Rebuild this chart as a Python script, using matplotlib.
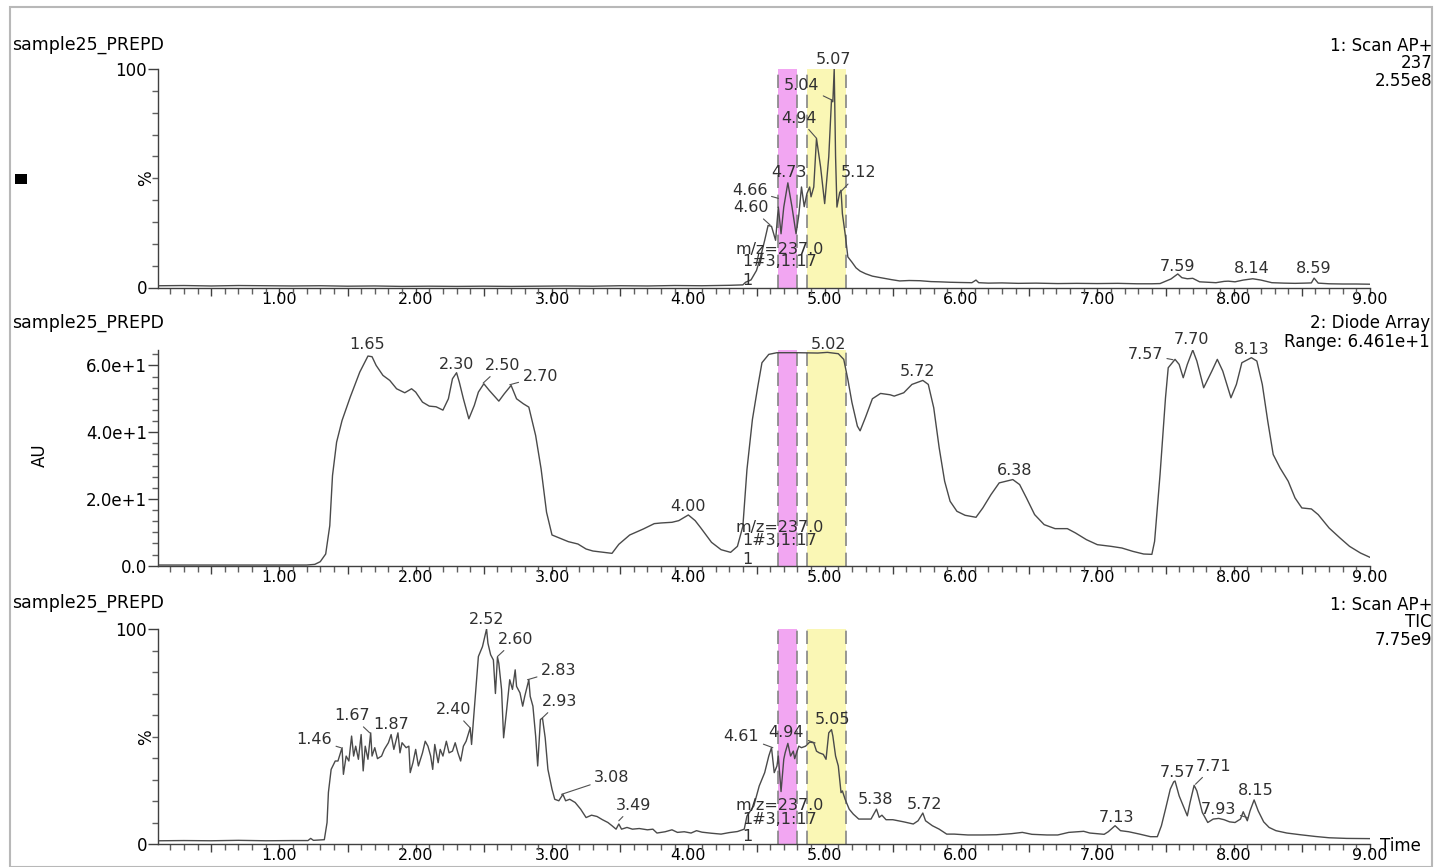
import matplotlib.pyplot as plt
from matplotlib.patches import Rectangle
from matplotlib.ticker import MultipleLocator, FixedLocator, FuncFormatter

# ---- trace 1: Scan AP+ 237 (% of 2.55e8) ----
ms_time = [0.12, 0.3, 0.5, 0.7, 0.9, 1.1, 1.3, 1.5, 1.7, 1.9, 2.1, 2.3, 2.5, 2.7, 2.9, 3.1,
           3.3, 3.5, 3.7, 3.9, 4.1, 4.3, 4.40, 4.42, 4.46, 4.50, 4.53, 4.56, 4.585, 4.61,
           4.64, 4.66, 4.68, 4.70, 4.73, 4.76, 4.79, 4.81, 4.83, 4.85, 4.87, 4.89, 4.90,
           4.92, 4.94, 4.97, 5.00, 5.03, 5.05, 5.06, 5.07, 5.08, 5.09, 5.11, 5.12, 5.13,
           5.15, 5.17, 5.20, 5.23, 5.26, 5.30, 5.35, 5.41, 5.49, 5.55, 5.62, 5.70, 5.78,
           5.84, 5.92, 5.99, 6.08, 6.11, 6.13, 6.2, 6.3, 6.42, 6.55, 6.71, 6.85, 7.0, 7.15,
           7.29, 7.40, 7.46, 7.54, 7.59, 7.62, 7.66, 7.70, 7.75, 7.81, 7.87, 7.93, 7.96,
           8.01, 8.07, 8.14, 8.20, 8.28, 8.37, 8.45, 8.52, 8.57, 8.59, 8.62, 8.70, 8.80,
           8.90, 9.0]
ms_pct = [0.8, 0.9, 0.7, 0.9, 0.8, 0.7, 0.8, 0.6, 0.7, 0.5, 0.6, 0.5, 0.6, 0.5, 0.6, 0.7,
          0.6, 0.8, 0.7, 0.9, 0.8, 1.0, 1.2, 2.4, 3.5, 7.8, 14, 21.6, 28.4, 28,
          21.6, 36.8, 24.6, 36.8, 47.9, 37, 24.6, 33, 46, 37, 43, 46, 41.5,
          46, 68.2, 55.2, 38.4, 59.8, 85.8, 85, 100, 59.8, 36.8, 43.4, 44.5, 33.8,
          24.6, 14, 11.6, 9, 7.5, 6.3, 5.2, 4.5, 3.6, 3.0, 3.2, 3.1, 2.7,
          2.6, 2.4, 2.3, 2.2, 3.4, 2.2, 2.0, 2.1, 1.9, 2.0, 1.8, 1.9, 1.8, 1.9,
          1.7, 1.7, 1.8, 3.9, 6.2, 4.5, 4.0, 4.2, 2.6, 2.4, 2.2, 2.8, 2.9,
          2.6, 3.4, 4.0, 3.4, 2.2, 2.0, 1.9, 2.0, 2.1, 4.3, 2.0, 1.7, 1.6,
          1.6, 1.5]

# ---- trace 2: Diode Array (AU) ----
uv_time = [0.12, 0.5, 1.0, 1.2, 1.26, 1.30, 1.34, 1.37, 1.39, 1.42, 1.46, 1.52, 1.59, 1.65,
           1.68, 1.71, 1.76, 1.81, 1.86, 1.92, 1.97, 2.00, 2.05, 2.10, 2.15, 2.20, 2.24,
           2.27, 2.30, 2.32, 2.35, 2.39, 2.43, 2.46, 2.50, 2.54, 2.61, 2.65, 2.70, 2.74,
           2.79, 2.83, 2.88, 2.92, 2.96, 3.00, 3.06, 3.12, 3.19, 3.25, 3.30, 3.38, 3.44,
           3.49, 3.57, 3.67, 3.75, 3.80, 3.88, 3.93, 4.00, 4.05, 4.09, 4.17, 4.24, 4.31,
           4.36, 4.40, 4.43, 4.47, 4.51, 4.54, 4.59, 4.65, 4.80, 4.95, 5.02, 5.10, 5.14,
           5.17, 5.20, 5.24, 5.26, 5.30, 5.35, 5.41, 5.48, 5.51, 5.58, 5.64, 5.72, 5.76,
           5.80, 5.84, 5.88, 5.92, 5.97, 6.03, 6.11, 6.16, 6.22, 6.28, 6.38, 6.43, 6.48,
           6.54, 6.61, 6.69, 6.78, 6.84, 6.92, 7.00, 7.10, 7.18, 7.26, 7.34, 7.40, 7.42,
           7.46, 7.50, 7.52, 7.57, 7.60, 7.63, 7.66, 7.70, 7.73, 7.78, 7.84, 7.88, 7.92,
           7.98, 8.02, 8.06, 8.13, 8.17, 8.21, 8.25, 8.29, 8.34, 8.40, 8.45, 8.50, 8.57,
           8.62, 8.70, 8.78, 8.85, 8.93, 9.00]
uv_au = [0.2, 0.2, 0.2, 0.2, 0.4, 1.2, 3.5, 12, 27, 37, 43.5, 50.5, 58, 62.8,
         62.6, 60, 57, 55.5, 53, 51.8, 53, 52, 49, 47.8, 47.6, 46.6, 50,
         56, 57.8, 55, 50, 44, 48, 52, 54.5, 52.5, 49.3, 51.5, 54, 50,
         48.5, 47.5, 39, 29, 16, 9.2, 8.2, 7.2, 6.5, 5, 4.4, 4, 3.7,
         6.4, 9.2, 11, 12.6, 12.8, 13, 13.5, 15.2, 13.5, 11.4, 7, 4.8, 4,
         5.8, 11.8, 28.8, 43.8, 53.8, 60.8, 63.3, 63.8, 63.8, 63.7, 63.9, 63.5, 61.8,
         55.8, 48.9, 41.8, 40.4, 44.5, 50, 51.6, 51.2, 50.8, 51.8, 54.3, 55.5, 54.3,
         47.3, 35.3, 25.3, 19.3, 16.3, 15.1, 14.5, 17.3, 21.3, 24.8, 25.8, 24.3, 20.3,
         15.3, 12.3, 11.1, 11.1, 9.8, 7.8, 6.3, 5.8, 5.3, 4.3, 3.5, 3.4, 7.3,
         27.3, 50.3, 59.3, 61.8, 60.3, 56.3, 60.3, 64.6, 61.3, 53.3, 58.3, 61.8, 58.3,
         50.3, 54.3, 60.8, 62.3, 61.3, 54.3, 43.3, 33.3, 29.3, 25.3, 20.3, 17.3, 17.0,
         15.3, 11.3, 8.3, 5.8, 3.8, 2.5]

# ---- trace 3: Scan AP+ TIC (% of 7.75e9) ----
tic_time = [0.12, 0.3, 0.5, 0.7, 0.9, 1.1, 1.21, 1.23, 1.25, 1.33, 1.35, 1.36, 1.38, 1.41,
            1.43, 1.46, 1.47, 1.49, 1.51, 1.53, 1.545, 1.56, 1.58, 1.60, 1.615, 1.63, 1.65,
            1.67, 1.68, 1.70, 1.72, 1.75, 1.77, 1.80, 1.82, 1.84, 1.87, 1.885, 1.90, 1.93,
            1.95, 1.96, 1.98, 2.00, 2.02, 2.05, 2.07, 2.09, 2.11, 2.125, 2.14, 2.165, 2.18,
            2.20, 2.225, 2.245, 2.27, 2.29, 2.31, 2.33, 2.35, 2.37, 2.40, 2.41, 2.43, 2.46,
            2.49, 2.52, 2.53, 2.55, 2.57, 2.585, 2.60, 2.61, 2.63, 2.645, 2.665, 2.69, 2.71,
            2.73, 2.74, 2.765, 2.785, 2.80, 2.83, 2.84, 2.86, 2.88, 2.895, 2.915, 2.93, 2.95,
            2.97, 3.00, 3.02, 3.05, 3.08, 3.10, 3.13, 3.17, 3.21, 3.25, 3.29, 3.33, 3.37,
            3.41, 3.44, 3.47, 3.49, 3.51, 3.55, 3.59, 3.64, 3.70, 3.74, 3.77, 3.83, 3.88,
            3.92, 3.97, 4.02, 4.06, 4.10, 4.17, 4.24, 4.30, 4.36, 4.41, 4.43, 4.48, 4.52,
            4.56, 4.59, 4.61, 4.63, 4.65, 4.66, 4.68, 4.70, 4.71, 4.73, 4.75, 4.77, 4.78,
            4.81, 4.83, 4.86, 4.89, 4.92, 4.94, 4.96, 4.99, 5.01, 5.03, 5.05, 5.06, 5.08,
            5.10, 5.12, 5.13, 5.15, 5.18, 5.21, 5.25, 5.30, 5.34, 5.38, 5.40, 5.42, 5.45,
            5.50, 5.58, 5.65, 5.685, 5.72, 5.74, 5.79, 5.84, 5.895, 5.95, 6.05, 6.16, 6.26,
            6.37, 6.45, 6.52, 6.63, 6.71, 6.79, 6.90, 6.945, 7.05, 7.08, 7.13, 7.17, 7.23,
            7.31, 7.39, 7.44, 7.47, 7.50, 7.535, 7.56, 7.57, 7.60, 7.64, 7.66, 7.68, 7.71,
            7.73, 7.77, 7.81, 7.85, 7.89, 7.93, 7.97, 8.01, 8.05, 8.07, 8.10, 8.12, 8.15,
            8.18, 8.22, 8.26, 8.31, 8.39, 8.49, 8.60, 8.70, 8.83, 9.0]
tic_pct = [1.5, 1.6, 1.5, 1.7, 1.5, 1.6, 1.6, 2.6, 1.7, 2.0, 10, 24, 34.7, 38.6,
           38.6, 44.8, 32.4, 40.9, 38.6, 50.2, 40.9, 45.5, 39.4, 50.9, 34, 45.5, 39.4,
           51.7, 40.9, 44.8, 39.7, 40.9, 44, 47.1, 50.9, 44, 51.7, 42.4, 47.1, 44.8,
           45.5, 33.2, 37.8, 44, 36.3, 42.4, 47.8, 45.5, 40.9, 34.7, 46.3, 37.8, 44,
           40.9, 47.8, 42.4, 43.2, 47.1, 42.4, 38.6, 45.5, 47.8, 54, 46.3, 62.5, 87.2,
           91.8, 100, 93.4, 88, 85.6, 70, 87, 84, 71.9, 49.4, 61, 76.4, 71.9,
           81, 73.3, 70.3, 64.1, 68.7, 76.4, 68.7, 64.1, 50.2, 36.3, 57.9, 58.6, 49.4,
           34.7, 25.5, 20.8, 20.1, 23.1, 20.1, 20.8, 19.3, 16.2, 12.3, 13.4, 12.8, 11.3,
           10, 8.5, 6.9, 9.3, 6.9, 7.7, 6.9, 7.2, 6.6, 6.9, 5.1, 5.7, 6.6,
           5.4, 5.7, 5.1, 6.2, 5.5, 5.0, 4.6, 5.3, 5.8, 6.9, 13, 17.7, 27,
           33.2, 40.9, 44.8, 33.2, 36.3, 40.9, 24.4, 39.4, 42.4, 46.8, 40.9, 43.2, 39.7,
           45.5, 44.8, 45.5, 47.4, 47.1, 43.2, 42.4, 41.7, 39.4, 51.7, 53.2, 50.2, 40.9,
           36.3, 23.9, 24.7, 20.8, 16.2, 13.9, 11.6, 11.6, 11.6, 16.2, 12.4, 13.4, 11.3,
           11.3, 10.3, 9.3, 10.8, 14.4, 10.8, 8.5, 6.9, 4.6, 4.6, 4.2, 4.2, 4.3,
           4.8, 5.4, 4.5, 4.2, 4.2, 5.4, 5.9, 5.1, 4.5, 5.7, 8.5, 6.2, 5.7,
           4.6, 3.4, 3.4, 8.5, 16.2, 25.5, 28.9, 29.3, 22.4, 16.2, 13.1, 19.3, 27.3,
           24.7, 14.7, 10, 11.6, 11.9, 11.3, 10.3, 10, 11.6, 15, 10.8, 15.4, 20.5,
           15.4, 10.3, 7.7, 6.2, 5.1, 4.3, 3.5, 2.9, 2.6, 2.5]

# peak labels: (text, text_x, text_y, tip_x, tip_y) - tip None means no leader line
ms_labels = [("5.07", 5.065, 104.5, None, None), ("5.04", 4.83, 92.5, 5.056, 85.7),
             ("4.94", 4.81, 77.5, 4.94, 68.3), ("4.73", 4.74, 52.5, None, None),
             ("5.12", 5.25, 52.5, 5.117, 43.8), ("4.66", 4.45, 44.5, 4.66, 40.8),
             ("4.60", 4.46, 36.5, 4.60, 28.6), ("7.59", 7.59, 9.5, None, None),
             ("8.14", 8.13, 8.5, None, None), ("8.59", 8.59, 8.5, None, None)]
uv_labels = [("1.65", 1.645, 66.3, None, None), ("2.30", 2.30, 60.2, None, None),
             ("2.50", 2.635, 60.0, 2.495, 54.7), ("2.70", 2.915, 56.7, 2.69, 54.2),
             ("4.00", 4.00, 17.6, None, None), ("5.02", 5.03, 66.2, None, None),
             ("5.72", 5.68, 58.1, None, None), ("6.38", 6.39, 28.4, None, None),
             ("7.57", 7.35, 63.3, 7.555, 61.7), ("7.70", 7.69, 67.8, None, None),
             ("8.13", 8.13, 64.8, None, None)]
tic_labels = [("2.52", 2.52, 104.2, None, None), ("2.60", 2.735, 95.2, 2.60, 87.2),
              ("2.83", 3.05, 80.7, 2.82, 76.4), ("2.93", 3.055, 66.3, 2.93, 58.7),
              ("2.40", 2.275, 62.5, 2.40, 54.0), ("1.87", 1.82, 55.6, None, None),
              ("1.67", 1.53, 59.7, 1.663, 51.7), ("1.46", 1.255, 48.6, 1.45, 44.8),
              ("3.08", 3.44, 30.9, 3.07, 23.1), ("3.49", 3.60, 18.0, 3.49, 10.8),
              ("4.61", 4.39, 50.2, 4.62, 44.8), ("4.94", 4.72, 51.7, 4.93, 47.0),
              ("5.05", 5.06, 57.9, None, None), ("5.38", 5.37, 20.8, None, None),
              ("5.72", 5.73, 18.5, None, None), ("7.13", 7.14, 12.5, None, None),
              ("7.57", 7.585, 33.3, None, None), ("7.71", 7.855, 36.2, 7.72, 27.8),
              ("7.93", 7.89, 16.2, 8.10, 12.3), ("8.15", 8.16, 24.7, None, None)]

# fraction collector windows
pink_window = (4.66, 4.80)
yellow_window = (4.867, 5.159)

W, H = 1435, 867
LINE = '#4a4a4a'
TXT = '#303030'
FS = 12

plt.rcParams['font.family'] = ['DejaVu Sans']

fig = plt.figure(figsize=(W / 100, H / 100), dpi=100)


def px(x, y):
    return x / W, 1 - y / H


def ftext(x, y, s, **kw):
    fx, fy = px(x, y)
    kw.setdefault('fontsize', FS)
    kw.setdefault('color', 'black')
    fig.text(fx, fy, s, **kw)


def make_axes(top, bottom):
    left, right = 158, 1370
    ax = fig.add_axes([left / W, 1 - bottom / H, (right - left) / W, (bottom - top) / H])
    ax.set_xlim(0.11, 9.0)
    for s in ('top', 'right'):
        ax.spines[s].set_visible(False)
    for s in ('left', 'bottom'):
        ax.spines[s].set_color('#404040')
        ax.spines[s].set_linewidth(1.0)
    ax.xaxis.set_major_locator(MultipleLocator(0.5))
    ax.xaxis.set_minor_locator(MultipleLocator(0.1))
    ax.xaxis.set_major_formatter(
        FuncFormatter(lambda v, p: '%.2f' % v if abs(v - round(v)) < 1e-6 else ''))
    ax.tick_params(axis='both', which='major', length=7, width=1, color='#404040',
                   labelsize=FS, pad=1)
    ax.tick_params(axis='x', which='major', length=6, pad=-3, labelsize=11.5)
    ax.tick_params(axis='both', which='minor', length=4, width=1, color='#606060')
    ax.set_facecolor('none')
    return ax


def shade(ax):
    ax.axvspan(*pink_window, color='#f2a6f2', lw=0, zorder=0)
    ax.axvspan(*yellow_window, color='#faf7b5', lw=0, zorder=0)
    for xv in (pink_window[0], pink_window[1], yellow_window[0], yellow_window[1]):
        ax.axvline(xv, color='#858585', lw=1.2, ls=(0, (8, 4)), zorder=1)


def peak_labels(ax, labels):
    for txt, tx, ty, px_, py_ in labels:
        if px_ is None:
            ax.text(tx, ty, txt, ha='center', va='center', fontsize=FS - 0.5, color=TXT,
                    zorder=5)
        else:
            ax.annotate(txt, xy=(px_, py_), xytext=(tx, ty), ha='center', va='center',
                        fontsize=FS - 0.5, color=TXT, zorder=5, annotation_clip=False,
                        arrowprops=dict(arrowstyle='-', color='#505050', lw=0.8,
                                        shrinkA=1, shrinkB=0))


def mz_labels(ax, y1, y2, y3):
    ax.text(4.67, y1, 'm/z=237.0', ha='center', va='center', fontsize=FS - 0.5,
            color=TXT, zorder=5)
    ax.text(4.67, y2, '1#3,1:17', ha='center', va='center', fontsize=FS - 0.5,
            color=TXT, zorder=5)
    ax.text(4.43, y3, '1', ha='center', va='center', fontsize=FS - 0.5, color=TXT,
            zorder=5)


# panel 1: trace of m/z 237
ax1 = make_axes(69, 287.5)
ax1.set_ylim(0, 100)
ax1.yaxis.set_major_locator(FixedLocator([0, 100]))
ax1.yaxis.set_minor_locator(MultipleLocator(10))
shade(ax1)
ax1.plot(ms_time, ms_pct, color=LINE, lw=1.0, zorder=3)
peak_labels(ax1, ms_labels)
mz_labels(ax1, 17.5, 11.8, 3.4)

# panel 2: diode array
ax2 = make_axes(350, 565.7)
ax2.set_ylim(0, 64.61)
ax2.yaxis.set_major_locator(FixedLocator([0, 20, 40, 60]))
ax2.yaxis.set_minor_locator(MultipleLocator(20 / 6))
ax2.yaxis.set_major_formatter(
    FuncFormatter(lambda v, p: '0.0' if v == 0 else '%.1fe+1' % (v / 10)))
shade(ax2)
ax2.plot(uv_time, uv_au, color=LINE, lw=1.0, zorder=3)
peak_labels(ax2, uv_labels)
mz_labels(ax2, 11.5, 7.4, 1.9)

# panel 3: total ion current
ax3 = make_axes(629, 844)
ax3.set_ylim(0, 100)
ax3.yaxis.set_major_locator(FixedLocator([0, 100]))
ax3.yaxis.set_minor_locator(MultipleLocator(10))
shade(ax3)
ax3.plot(tic_time, tic_pct, color=LINE, lw=1.0, zorder=3)
peak_labels(ax3, tic_labels)
mz_labels(ax3, 18.0, 11.6, 3.6)

# headers
for y in (45, 323, 603):
    ftext(12, y, 'sample25_PREPD', ha='left', va='center', fontsize=12.5)

ftext(1432, 37, '1: Scan AP+\n237\n2.55e8', ha='right', va='top',
      multialignment='right', linespacing=0.95)
ftext(1430, 314, '2: Diode Array\nRange: 6.461e+1', ha='right', va='top',
      multialignment='right', linespacing=1.05)
ftext(1432, 596, '1: Scan AP+\nTIC\n7.75e9', ha='right', va='top',
      multialignment='right', linespacing=0.95)
ftext(1380, 846, 'Time', ha='left', va='center')

ftext(146, 178, '%', ha='center', va='center', rotation=90)
ftext(146, 737, '%', ha='center', va='center', rotation=90)
ftext(40, 455, 'AU', ha='center', va='center', rotation=90)

# frame and marker square
fig.add_artist(Rectangle(px(10, 867), 1422 / W, 860 / H, transform=fig.transFigure,
                         fill=False, ec='#b8b8b8', lw=1.5))
fig.add_artist(Rectangle(px(15, 184), 12 / W, 10 / H, transform=fig.transFigure,
                         fc='black', ec='none'))

plt.savefig('out.png', dpi=100)
